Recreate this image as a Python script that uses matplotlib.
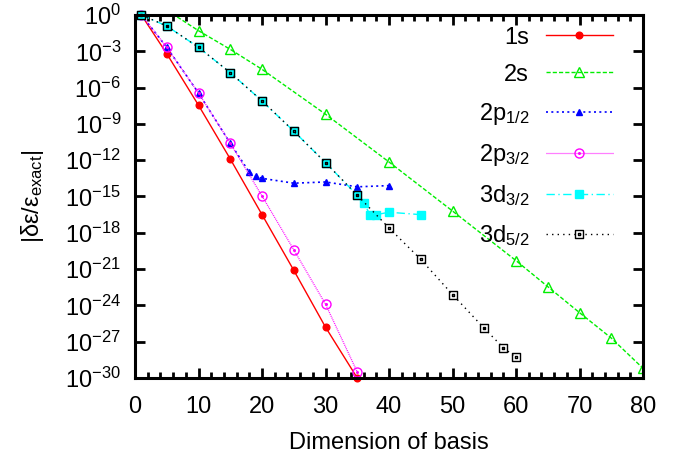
import numpy as np
import matplotlib
matplotlib.use("Agg")
import matplotlib.pyplot as plt
from matplotlib.path import Path

plt.rcParams['font.family'] = ['Liberation Sans', 'DejaVu Sans']
plt.rcParams['mathtext.fontset'] = 'custom'
plt.rcParams['mathtext.rm'] = 'Liberation Sans'
plt.rcParams['mathtext.it'] = 'Liberation Sans:italic'
plt.rcParams['font.size'] = 17

# basis dimension and log10 of the relative error
n_1s = [1, 5, 10, 15, 20, 25, 30, 35]
e_1s = [0, -3.2, -7.46, -11.9, -16.5, -21.1, -25.8, -30.0]

n_2s = [5, 10, 15, 20, 30, 40, 50, 60, 65, 70, 75, 80]
e_2s = [0.4, -1.3, -2.84, -4.49, -8.2, -12.15, -16.2, -20.3, -22.45, -24.6, -26.7, -29.2]

n_2p12 = [1, 5, 10, 15, 18, 19, 20, 25, 30, 35, 40]
e_2p12 = [0, -2.67, -6.45, -10.6, -13.0, -13.3, -13.5, -13.9, -13.8, -14.2, -14.1]

n_2p32 = [1, 5, 10, 15, 20, 25, 30, 35]
e_2p32 = [0, -2.67, -6.45, -10.6, -14.96, -19.4, -23.9, -29.5]

n_3d32 = [1, 5, 10, 15, 20, 25, 30, 35, 36, 37, 38, 40, 45]
e_3d32 = [0, -0.91, -2.67, -4.77, -7.1, -9.6, -12.2, -14.9, -15.5, -16.5, -16.5, -16.3, -16.5]

n_3d52 = [1, 5, 10, 15, 20, 25, 30, 35, 40, 45, 50, 55, 58, 60]
e_3d52 = [0, -0.91, -2.67, -4.77, -7.1, -9.6, -12.2, -14.9, -17.6, -20.2, -23.1, -25.9, -27.5, -28.3]

labels = ['1s', '2s', '2p$_{1/2}$', '2p$_{3/2}$', '3d$_{3/2}$', '3d$_{5/2}$']

# gnuplot style markers with a small dot in the middle
circ_dot = Path.make_compound_path(Path.unit_circle(), Path.circle((0, 0), 0.18))
sq = Path.unit_rectangle()
sq = Path(sq.vertices * 2 - 1, sq.codes)
sq_in = Path(sq.vertices * 0.2, sq.codes)
sq_dot = Path.make_compound_path(sq, sq_in)

fig = plt.figure(figsize=(6.9, 4.63), dpi=100)
ax = fig.add_axes([0.1957, 0.1836, 0.7362, 0.784])

ax.plot(n_1s, np.power(10.0, e_1s), color='#ff0000', lw=1.0, ls='-',
        marker='o', ms=4.8, clip_on=False, label=labels[0])
ax.plot(n_2s, np.power(10.0, e_2s), color='#00ee00', lw=1.0, ls=(0, (3, 1.5)),
        marker='^', ms=6.5, mfc='none', mew=1.0, label=labels[1])
ax.plot(n_2p12, np.power(10.0, e_2p12), color='#0000ff', lw=1.2, ls=(0, (1.2, 2)),
        marker='^', ms=5, clip_on=False, label=labels[2])
ax.plot(n_2p32, np.power(10.0, e_2p32), color='#ff00ff', lw=0.9, ls=(0, (0.8, 0.8)),
        marker=circ_dot, ms=6.5, mfc='none', mew=1.0, clip_on=False, label=labels[3])
ax.plot(n_3d32, np.power(10.0, e_3d32), color='#00ffff', lw=1.0, ls=(0, (6, 2.5, 1, 2.5)),
        marker='s', ms=5.8, clip_on=False, label=labels[4])
ax.plot(n_3d52, np.power(10.0, e_3d52), color='black', lw=1.0, ls=(0, (1, 3)),
        marker=sq_dot, ms=6.3, mfc='none', mew=1.0, clip_on=False, label=labels[5])

ax.set_yscale('log')
ax.set_xlim(0, 80)
ax.set_ylim(1e-30, 1)
ax.set_yticks([10.0 ** -k for k in range(0, 31, 3)])
ax.set_yticklabels(['10$^{%d}$' % -k if k else '10$^{0}$' for k in range(0, 31, 3)])
ax.yaxis.set_minor_locator(matplotlib.ticker.NullLocator())
ax.set_xticks(range(0, 81, 10))
ax.set_xticks(range(0, 81, 2), minor=True)

for s in ax.spines.values():
    s.set_linewidth(2.2)
ax.tick_params(which='both', direction='in', top=True, right=True, width=2.0)
ax.tick_params(which='major', length=7.5)
ax.tick_params(which='minor', length=4)
ax.tick_params(axis='x', pad=13)
ax.tick_params(axis='y', pad=10)

ax.set_xlabel('Dimension of basis', labelpad=10)
ax.set_ylabel('|δε/ε$_{\\rm exact}$|', labelpad=14)

ax.legend(loc='upper right', bbox_to_anchor=(0.941, 0.968), frameon=False,
          markerfirst=False, handlelength=2.85, handletextpad=0.7,
          labelspacing=0.64, borderpad=0, borderaxespad=0, fontsize=17)

fig.savefig('out.png', dpi=100)
